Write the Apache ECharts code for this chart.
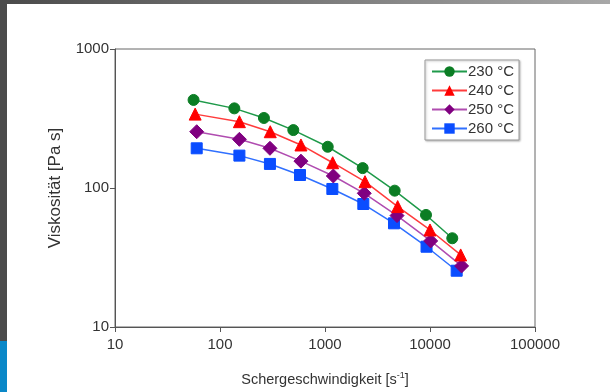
<!DOCTYPE html>
<html>
<head>
<meta charset="utf-8">
<script src="https://cdn.jsdelivr.net/npm/echarts@6/dist/echarts.min.js"></script>
<style>
  html, body { margin: 0; padding: 0; background: #fff; }
  #chart { width: 610px; height: 392px; }
</style>
</head>
<body>
<div id="chart"></div>
<script>
// series names
const seriesNames = ['230 °C', '240 °C', '250 °C', '260 °C']

// shear rate [1/s] per series
const x230 = [56, 137, 262, 499, 1062, 2285, 4610, 9160, 16300]
const x240 = [58, 153, 301, 590, 1183, 2404, 4920, 10000, 19600]
const x250 = [60, 153, 299, 590, 1200, 2365, 4850, 10150, 20000]
const x260 = [60, 153, 299, 578, 1175, 2317, 4540, 9270, 17950]

// viscosity [Pa s] per series
const y230 = [430, 374, 319, 261, 198, 139, 95.7, 64, 43.5]
const y240 = [340, 300, 254, 204, 152, 111, 73.5, 49.9, 33]
const y250 = [254, 224, 193, 156, 122, 91.6, 63.3, 41.6, 27.5]
const y260 = [193, 171, 149, 124, 98.4, 76.7, 55.7, 37.8, 25.4]

const xTicks = [10, 100, 1000, 10000, 100000]
const yTicks = [10, 100, 1000]

const xs = [x230, x240, x250, x260]
const ys = [y230, y240, y250, y260]
const symbols = ['circle', 'triangle', 'diamond', 'rect']
const symbolSizes = [11, 12, 14, 11]
const markerColors = ['#0b7d24', '#ff0000', '#800080', '#0a4dff']
const lineColors = ['#1f9a4a', '#ff3c3c', '#b04cb0', '#3070ff']

const chart = echarts.init(document.getElementById('chart'))

const series = seriesNames.map((name, i) => ({
  name,
  type: 'line',
  symbol: symbols[i],
  symbolSize: symbolSizes[i],
  data: xs[i].map((x, j) => [x, ys[i][j]]),
  lineStyle: { color: lineColors[i], width: 1.5 },
  itemStyle: { color: markerColors[i], borderColor: markerColors[i] },
  emphasis: { disabled: true },
  z: 5 - i
}))

const font = 'Liberation Sans, Arial, sans-serif'
const axisFont = { fontFamily: font, color: '#333', fontSize: 15 }

chart.setOption({
  animation: false,
  graphic: [
    {
      type: 'rect', shape: { x: 0, y: 0, width: 610, height: 4 },
      style: {
        fill: new echarts.graphic.LinearGradient(0, 0, 1, 0, [
          { offset: 0, color: '#4a4a4a' },
          { offset: 1, color: '#a8a8a8' }
        ])
      }
    },
    { type: 'rect', shape: { x: 0, y: 0, width: 7, height: 341 }, style: { fill: '#4b4b4b' } },
    { type: 'rect', shape: { x: 0, y: 341, width: 7, height: 51 }, style: { fill: '#0a88c8' } }
  ],
  grid: {
    left: 115, top: 49, right: 75, bottom: 65,
    show: true, borderColor: '#666', borderWidth: 1, backgroundColor: 'transparent'
  },
  legend: {
    data: seriesNames,
    orient: 'vertical',
    left: 425, top: 60,
    itemWidth: 35, itemHeight: 13, itemGap: 4,
    padding: [4, 5, 4, 6],
    borderColor: '#999', borderWidth: 1,
    shadowColor: 'rgba(0,0,0,0.25)', shadowBlur: 2, shadowOffsetX: 1, shadowOffsetY: 1,
    backgroundColor: '#fff',
    textStyle: { fontFamily: font, color: '#333', fontSize: 15, padding: [0, 0, 0, -4] }
  },
  xAxis: {
    type: 'log', logBase: 10, min: 10, max: 100000,
    name: 'Schergeschwindigkeit [s{sup|-1}]',
    nameLocation: 'middle', nameGap: 44,
    nameTextStyle: {
      fontFamily: font, color: '#333', fontSize: 14.5,
      rich: { sup: { fontFamily: font, fontSize: 9, color: '#333', padding: [0, 0, 8, 0] } }
    },
    axisLine: { show: true, lineStyle: { color: '#555', width: 1 } },
    axisTick: { show: true, inside: false, length: 5, lineStyle: { color: '#555' } },
    minorTick: { show: false },
    splitLine: { show: false },
    axisLabel: Object.assign({ margin: 10, formatter: v => String(Math.round(v)) }, axisFont)
  },
  yAxis: {
    type: 'log', logBase: 10, min: 10, max: 1000,
    name: 'Viskosität [Pa s]',
    nameLocation: 'middle', nameGap: 51,
    nameTextStyle: { fontFamily: font, color: '#333', fontSize: 17 },
    axisLine: { show: true, lineStyle: { color: '#555', width: 1 } },
    axisTick: { show: true, inside: false, length: 5, lineStyle: { color: '#555' } },
    minorTick: { show: false },
    splitLine: { show: false },
    axisLabel: Object.assign({ margin: 6, formatter: v => String(Math.round(v)) }, axisFont)
  },
  series
})
</script>
</body>
</html>
